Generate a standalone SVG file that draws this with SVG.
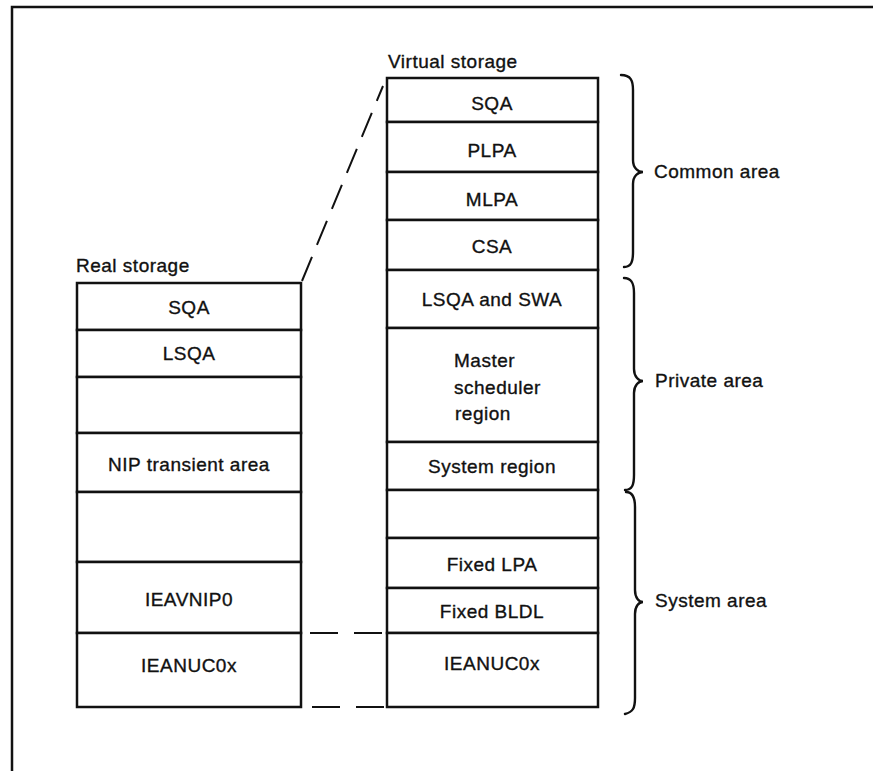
<svg xmlns="http://www.w3.org/2000/svg" width="873" height="771" viewBox="0 0 873 771">
<style>
.box{fill:#fff;stroke:#111;stroke-width:2.5}
.t{font-family:"Liberation Sans",Arial,Helvetica,sans-serif;font-size:19px;fill:#111;stroke:#111;stroke-width:0.35px;letter-spacing:0.5px}
.c{text-anchor:middle}
.dash{fill:none;stroke:#111;stroke-width:2}
.brace{fill:none;stroke:#111;stroke-width:2.4;stroke-linecap:round}
.frame{fill:none;stroke:#111;stroke-width:2.5}
</style>
<rect width="873" height="771" fill="#fff"/>
<path class="frame" d="M12 771 V7 H873"/>

<text class="t" x="388" y="68">Virtual storage</text>
<text class="t" x="76" y="272">Real storage</text>

<g id="real-storage">
<g id="r-sqa"><rect class="box" x="77" y="283" width="224" height="47"/><text class="t c" x="189" y="314">SQA</text></g>
<g id="r-lsqa"><rect class="box" x="77" y="330" width="224" height="47"/><text class="t c" x="189" y="360">LSQA</text></g>
<g id="r-empty1"><rect class="box" x="77" y="377" width="224" height="56"/></g>
<g id="r-nip"><rect class="box" x="77" y="433" width="224" height="59"/><text class="t c" x="189" y="471">NIP transient area</text></g>
<g id="r-empty2"><rect class="box" x="77" y="492" width="224" height="70"/></g>
<g id="r-ieavnip0"><rect class="box" x="77" y="562" width="224" height="71"/><text class="t c" x="189" y="606">IEAVNIP0</text></g>
<g id="r-ieanuc0x"><rect class="box" x="77" y="633" width="224" height="74"/><text class="t c" x="189" y="672">IEANUC0x</text></g>
</g>

<g id="virtual-storage">
<g id="v-sqa"><rect class="box" x="387" y="78" width="211" height="44"/><text class="t c" x="492" y="110">SQA</text></g>
<g id="v-plpa"><rect class="box" x="387" y="122" width="211" height="50"/><text class="t c" x="492" y="157">PLPA</text></g>
<g id="v-mlpa"><rect class="box" x="387" y="172" width="211" height="48"/><text class="t c" x="492" y="206">MLPA</text></g>
<g id="v-csa"><rect class="box" x="387" y="220" width="211" height="50"/><text class="t c" x="492" y="253">CSA</text></g>
<g id="v-lsqa-swa"><rect class="box" x="387" y="270" width="211" height="58"/><text class="t c" x="492" y="306">LSQA and SWA</text></g>
<g id="v-master"><rect class="box" x="387" y="328" width="211" height="114"/><text class="t" x="454" y="367">Master</text><text class="t" x="454" y="394">scheduler</text><text class="t" x="455" y="420">region</text></g>
<g id="v-system-region"><rect class="box" x="387" y="442" width="211" height="48"/><text class="t c" x="492" y="473">System region</text></g>
<g id="v-empty"><rect class="box" x="387" y="490" width="211" height="48"/></g>
<g id="v-fixed-lpa"><rect class="box" x="387" y="538" width="211" height="50"/><text class="t c" x="492" y="571">Fixed LPA</text></g>
<g id="v-fixed-bldl"><rect class="box" x="387" y="588" width="211" height="45"/><text class="t c" x="492" y="618">Fixed BLDL</text></g>
<g id="v-ieanuc0x"><rect class="box" x="387" y="633" width="211" height="74"/><text class="t c" x="492" y="670">IEANUC0x</text></g>
</g>

<g id="connectors">
<line class="dash" x1="302" y1="281" x2="383" y2="86" stroke-dasharray="26 13"/>
<line class="dash" x1="310" y1="633" x2="385" y2="633" stroke-dasharray="28 16"/>
<line class="dash" x1="312" y1="707" x2="386" y2="707" stroke-dasharray="28 16"/>
</g>

<g id="common-area">
<path class="brace" d="M621 75 C631 75 633 81 633 90 L633 160 C633 168 638 172 643 172 C638 172 633 176 633 184 L633 252 C633 262 631 267 624 267"/>
<text class="t" x="654" y="178">Common area</text>
</g>
<g id="private-area">
<path class="brace" d="M624 278 C632 278 634 284 634 293 L634 369 C634 377 639 381 643 381 C639 381 634 385 634 393 L634 475 C634 485 632 490 625 490"/>
<text class="t" x="655" y="387">Private area</text>
</g>
<g id="system-area">
<path class="brace" d="M626 492 C633 492 635 498 635 507 L635 590 C635 598 639 602 643 602 C639 602 635 606 635 614 L635 698 C635 708 633 712 625 714"/>
<text class="t" x="655" y="607">System area</text>
</g>
</svg>
